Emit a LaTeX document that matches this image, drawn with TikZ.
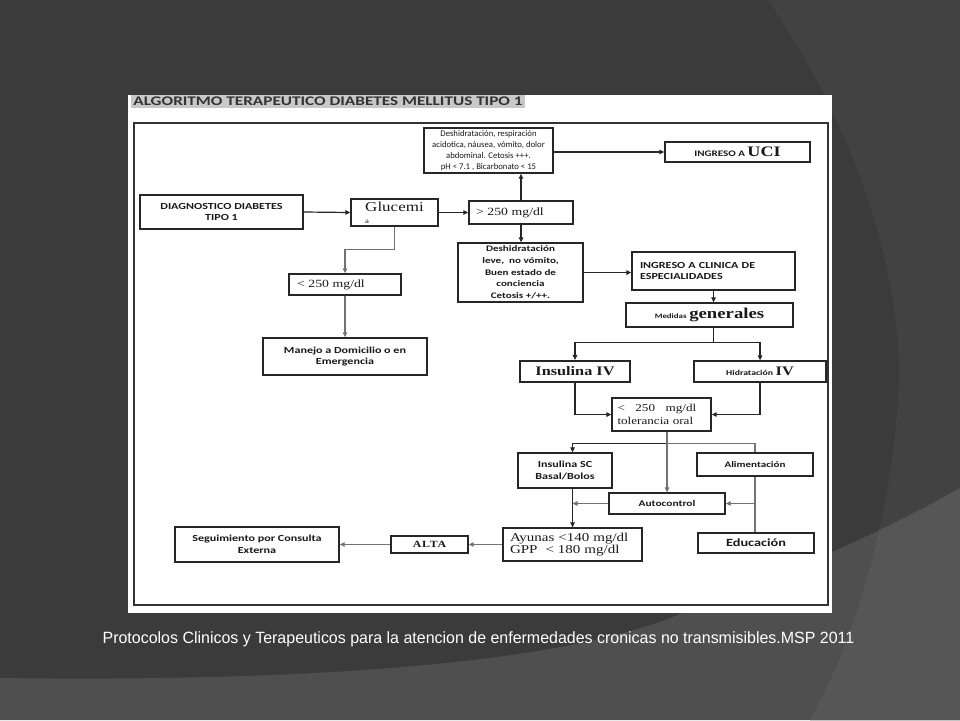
\documentclass[tikz,border=0pt]{standalone}
\usepackage{fontspec}
\setmainfont[FakeStretch=1.25]{Liberation Serif}
\newfontfamily\bxfont[FakeStretch=1.3]{Carlito}
\newfontfamily\rgfont{Carlito}
\newfontfamily\capfont[FakeStretch=0.98]{Liberation Sans}
\usetikzlibrary{arrows.meta}

\definecolor{bgA}{HTML}{3B3B3B}
\definecolor{bgB}{HTML}{424242}
\definecolor{bgC}{HTML}{4F4F4F}
\definecolor{bgD}{HTML}{565656}
\definecolor{titlegray}{HTML}{C8C8C8}

\begin{document}
\begin{tikzpicture}[x=1pt,y=-1pt,
        box/.style={draw=black!85, line width=1.3pt, fill=white, inner sep=0pt,
            align=center, text=black!90},
        sbold/.style={font=\bxfont\bfseries\fontsize{9.3}{11.5}\selectfont},
        srm/.style={font=\rgfont\fontsize{8.7}{11}\selectfont},
        serif/.style={font=\fontsize{11}{13}\selectfont},
        link/.style={draw=black!85, line width=1.2pt, -{Triangle[length=5pt,width=4.5pt]}},
        glink/.style={link, draw=black!55},
        gline/.style={draw=black!55, line width=1.2pt}
    ]
    % slide background
    \useasboundingbox (0,0) rectangle (960,720);
    \fill[bgA] (0,0) rectangle (960,720);
    \fill[bgB] (768,0) .. controls (870,150) and (905,300) .. (898,400)
        .. controls (890,520) and (855,640) .. (810,720) -- (960,720) -- (960,0) -- cycle;
    \fill[bgC] (0,720) -- (0,678) .. controls (300,682) and (560,665) .. (680,614)
        .. controls (760,582) and (860,545) .. (960,488) -- (960,720) -- cycle;
    \begin{scope}
        \clip (768,0) .. controls (870,150) and (905,300) .. (898,400)
            .. controls (890,520) and (855,640) .. (810,720) -- (960,720) -- (960,0) -- cycle;
        \fill[bgD] (0,720) -- (0,678) .. controls (300,682) and (560,665) .. (680,614)
            .. controls (760,582) and (860,545) .. (960,488) -- (960,720) -- cycle;
    \end{scope}

    % picture panel
    \fill[white] (128,95) rectangle (832,613);
    \node[fill=titlegray, minimum width=394pt, minimum height=13pt, inner sep=0pt,
        text=black!80, font=\bxfont\bfseries\fontsize{13.2}{14}\selectfont] (title) at (328,101.5)
        {ALGORITMO TERAPEUTICO DIABETES MELLITUS TIPO 1};
    \draw[draw=black!80, line width=1.3pt] (134,123) rectangle (828,605);

    % boxes
    \node[box, sbold, minimum width=163pt, minimum height=34pt] (diag) at (221.5,212)
        {DIAGNOSTICO DIABETES\\TIPO 1};
    \node[box, serif, align=left, font=\fontsize{13.6}{12}\selectfont, minimum width=87pt,
        minimum height=27pt] (gluc) at (394.5,212.5)
        {Glucemi\\{\fontsize{7}{7}\selectfont a}\hspace{40pt}};
    \node[box, serif, text width=90pt, align=left, minimum width=104pt, minimum height=23pt]
        (gt250) at (521,212.5) {> 250 mg/dl};
    \node[box, srm, minimum width=129pt, minimum height=45pt] (deshA) at (488.5,150.5)
        {Deshidratación, respiración\\acidotica, náusea, vómito, dolor\\abdominal. Cetosis +++.\\pH < 7.1 , Bicarbonato < 15};
    \node[box, sbold, minimum width=145pt, minimum height=20pt] (uci) at (737.5,152)
        {{\fontsize{8.5}{10}\selectfont INGRESO A }{\rmfamily\fontsize{14.5}{16}\selectfont UCI}};
    \node[box, serif, text width=96pt, align=left, minimum width=112pt, minimum height=21pt]
        (lt250) at (345,284.5) {< 250 mg/dl};
    \node[box, sbold, minimum width=164pt, minimum height=37pt] (manejo) at (345,356.5)
        {Manejo a Domicilio o en\\Emergencia};
    \node[box, sbold, font=\bxfont\bfseries\fontsize{8.5}{11.7}\selectfont, minimum width=125pt,
        minimum height=59pt] (deshB) at (520.5,272.5)
        {Deshidratación\\leve,\ \ no vómito,\\Buen estado de\\conciencia\\Cetosis +/++.};
    \node[box, sbold, text width=147pt, align=left, minimum width=163pt, minimum height=38pt]
        (clinica) at (713.5,271) {INGRESO A CLINICA DE\\ESPECIALIDADES};
    \node[box, sbold, minimum width=167pt, minimum height=24pt] (medidas) at (709.5,315)
        {{\fontsize{6.8}{8}\selectfont Medidas} {\rmfamily\fontsize{15}{16}\selectfont generales}};
    \node[box, line width=2.2pt, font=\bfseries\fontsize{13}{15}\selectfont, minimum width=110pt,
        minimum height=21pt] (insIV) at (575,371.5) {Insulina IV};
    \node[box, sbold, minimum width=132pt, minimum height=21pt] (hidIV) at (760,371.5)
        {{\fontsize{7.5}{9}\selectfont Hidratación} {\rmfamily\fontsize{13}{15}\selectfont IV}};
    \node[box, font=\fontsize{10.5}{13}\selectfont, text width=88pt, align=left,
        minimum width=99pt, minimum height=33pt] (tol) at (661.5,414.5)
        {<\quad 250\quad mg/dl\\tolerancia oral};
    \node[box, sbold, minimum width=94pt, minimum height=35pt] (insSC) at (565,470.5)
        {Insulina SC\\Basal/Bolos};
    \node[box, sbold, font=\bxfont\bfseries\fontsize{8.5}{10}\selectfont, minimum width=116pt,
        minimum height=23pt] (alim) at (755,464.5) {Alimentación};
    \node[box, sbold, font=\bxfont\bfseries\fontsize{8.8}{10}\selectfont, minimum width=116pt,
        minimum height=21pt] (auto) at (667,503.5) {Autocontrol};
    \node[box, font=\fontsize{12}{12.5}\selectfont, text width=125pt, align=left,
        minimum width=139pt, minimum height=33pt] (ayunas) at (572.5,544.5)
        {Ayunas <140 mg/dl\\GPP\ \ < 180 mg/dl};
    \node[box, font=\bxfont\bfseries\fontsize{11}{13}\selectfont, minimum width=116pt,
        minimum height=20pt] (educ) at (756,543) {Educación};
    \node[box, font=\bfseries\fontsize{9.5}{11}\selectfont\addfontfeature{LetterSpace=8},
        minimum width=77pt, minimum height=17pt] (alta) at (429.5,544.5) {ALTA};
    \node[box, sbold, minimum width=164pt, minimum height=35pt] (seg) at (257,544.5)
        {Seguimiento por Consulta\\Externa};

    % connectors
    \draw[link] (diag.east) -- (gluc.west);
    \draw[link] (gluc.east) -- (gt250.west);
    \draw[link] (gt250.north) -- (gt250.north |- deshA.south);
    \draw[link] (gt250.south) -- (gt250.south |- deshB.north);
    \draw[link] (uci.west -| deshA.east) -- (uci.west);
    \draw[link] (deshB.east) -- (deshB.east -| clinica.west);
    \draw[glink] (gluc.south) -- ++(0,23) -| (lt250.north);
    \draw[glink] (lt250.south) -- (manejo.north);
    \draw[link] (clinica.south) -- (clinica.south |- medidas.north);
    \draw[link] (clinica.south |- medidas.south) -- ++(0,15) -| (insIV.north);
    \draw[link] (clinica.south |- medidas.south) -- ++(0,15) -| (hidIV.north);
    \draw[link] (insIV.south) |- (tol.west);
    \draw[link] (hidIV.south) |- (tol.east);
    \draw[link] (auto.north |- tol.south) -- ++(0,12) -| (ayunas.north |- insSC.north);
    \draw[gline] (auto.north |- tol.south) -- ++(0,12) -| (alim.north);
    \draw[glink] (auto.north |- tol.south) -- (auto.north);
    \draw[link] (ayunas.north |- insSC.south) -- (ayunas.north);
    \draw[glink] (auto.west) -- (auto.west -| ayunas.north);
    \draw[gline] (alim.south) -- (alim.south |- educ.north);
    \draw[glink] (auto.east -| alim.south) -- (auto.east);
    \draw[glink] (ayunas.west) -- (ayunas.west -| alta.east);
    \draw[glink] (alta.west) -- (alta.west -| seg.east);

    % caption
    \node[text=white, font=\capfont\fontsize{16.3}{18}\selectfont, inner sep=0pt] (caption)
        at (478.5,639.5)
        {Protocolos Clinicos y Terapeuticos para la atencion de enfermedades cronicas no transmisibles.MSP 2011};
\end{tikzpicture}
\end{document}
